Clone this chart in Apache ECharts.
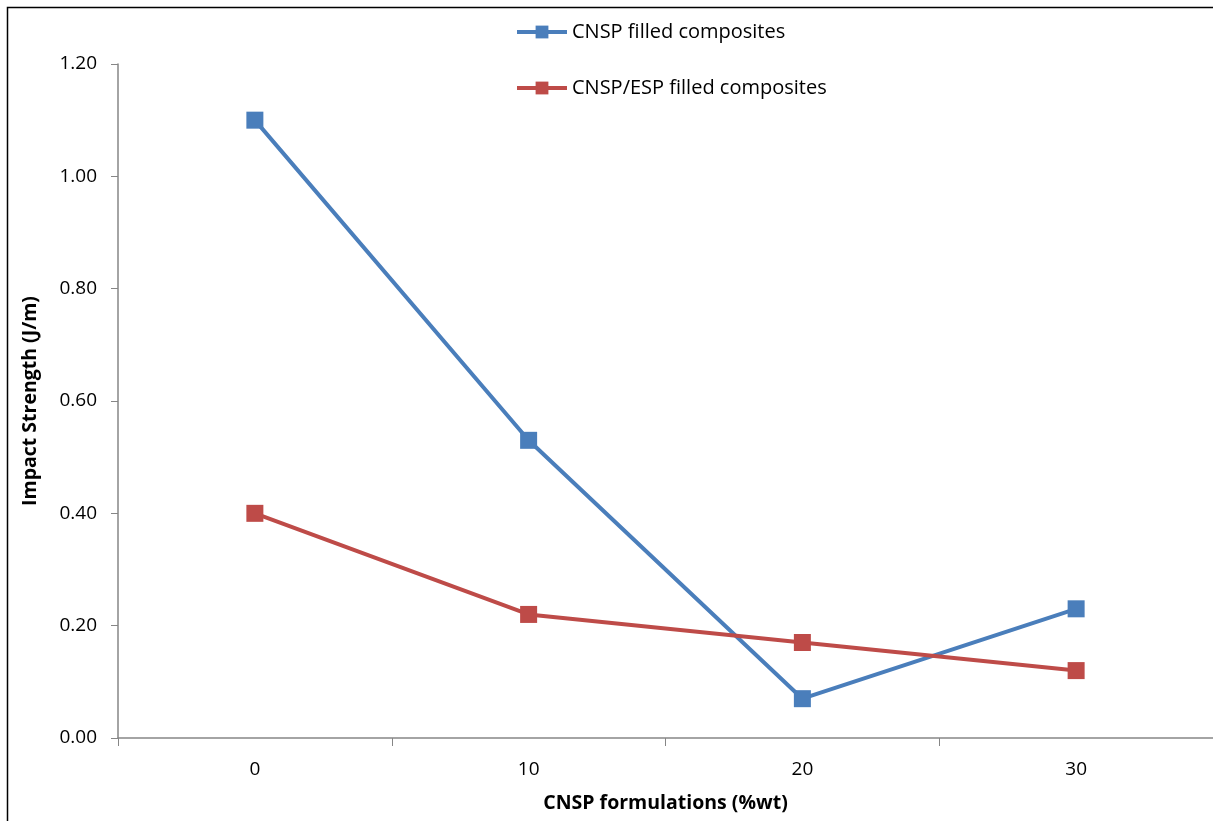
<!DOCTYPE html>
<html>
<head>
<meta charset="utf-8">
<script src="https://cdn.jsdelivr.net/npm/echarts@6/dist/echarts.min.js"></script>
<style>
  html, body { margin: 0; padding: 0; background: #fff; }
  #chart { width: 1213px; height: 821px; }
</style>
</head>
<body>
<div id="chart"></div>
<script>
const formulations = ['0', '10', '20', '30']
const cnspValues = [1.10, 0.53, 0.07, 0.23]
const cnspEspValues = [0.40, 0.22, 0.17, 0.12]
const seriesNames = ['CNSP filled composites', 'CNSP/ESP filled composites']

const font = '"Open Sans", "Liberation Sans", sans-serif'
const axisGrey = '#868686'

const chart = echarts.init(document.getElementById('chart'))
chart.setOption({
  animation: false,
  textStyle: { fontFamily: font },
  graphic: [
    {
      type: 'rect',
      shape: { x: 7.5, y: 7.5, width: 1400, height: 1000 },
      style: { fill: 'none', stroke: '#000', lineWidth: 1.5 },
      silent: true
    }
  ],
  legend: {
    orient: 'vertical',
    left: 510,
    top: 17,
    itemGap: 36,
    itemWidth: 50,
    itemHeight: 16,
    lineStyle: { width: 4 },
    textStyle: { fontSize: 20, color: '#000', fontFamily: font },
    data: seriesNames
  },
  grid: {
    left: 118,
    right: 0,
    top: 64,
    bottom: 83,
    outerBoundsMode: 'none'
  },
  xAxis: {
    type: 'category',
    data: formulations,
    boundaryGap: true,
    name: 'CNSP formulations (%wt)',
    nameLocation: 'middle',
    nameGap: 55,
    nameTextStyle: { fontSize: 19.5, fontWeight: 'bold', color: '#000', fontFamily: font },
    axisLine: { lineStyle: { color: axisGrey, width: 1.5 } },
    axisTick: { show: true, length: 8, lineStyle: { color: axisGrey } },
    axisLabel: { fontSize: 19, color: '#000', margin: 22 },
    splitLine: { show: false }
  },
  yAxis: {
    type: 'value',
    min: 0,
    max: 1.2,
    interval: 0.2,
    name: 'Impact Strength (J/m)',
    nameLocation: 'middle',
    nameGap: 78,
    nameRotate: 90,
    nameTextStyle: { fontSize: 19.5, fontWeight: 'bold', color: '#000', fontFamily: font },
    axisLine: { show: true, lineStyle: { color: axisGrey, width: 1.5 } },
    axisTick: { show: true, length: 7, lineStyle: { color: axisGrey } },
    axisLabel: {
      fontSize: 19,
      color: '#000',
      margin: 21,
      formatter: (v) => v.toFixed(2)
    },
    splitLine: { show: false }
  },
  series: [
    {
      name: seriesNames[0],
      type: 'line',
      data: cnspValues,
      color: '#4a7ebb',
      symbol: 'rect',
      symbolSize: 17,
      lineStyle: { width: 4 }
    },
    {
      name: seriesNames[1],
      type: 'line',
      data: cnspEspValues,
      color: '#be4b48',
      symbol: 'rect',
      symbolSize: 17,
      lineStyle: { width: 4 }
    }
  ]
})
</script>
</body>
</html>
